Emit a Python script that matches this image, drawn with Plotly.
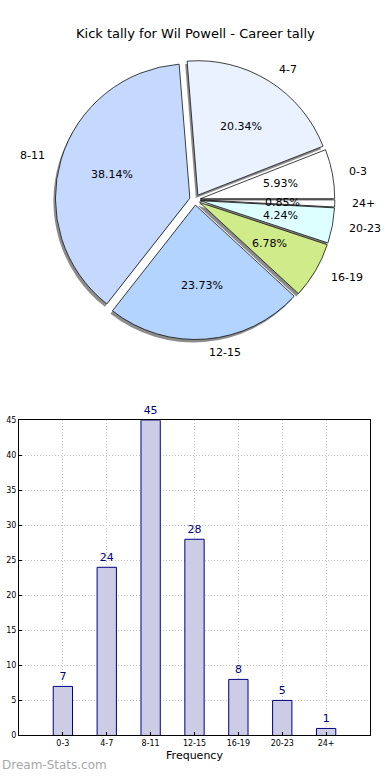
import math
import plotly.graph_objects as go

# ---- data ----
categories = ["0-3", "4-7", "8-11", "12-15", "16-19", "20-23", "24+"]
counts = [7, 24, 45, 28, 8, 5, 1]
pie_colors = ["#FFFFFF", "#EAF1FF", "#C5D9FF", "#B3D4FF", "#D0EB8A", "#DDFFFF", "#FFFFFF"]
title_text = "Kick tally for Wil Powell - Career tally"
x_title = "Frequency"
watermark = "Dream-Stats.com"

# ---- layout constants (pixels) ----
W, H = 390, 780
CX, CY, R = 195, 198, 136
PULL = 0.04
HALF = R * (1 + PULL)
FONT = "DejaVu Sans"

total = sum(counts)
# first slice starts at 3 o'clock and runs counterclockwise
pie_rotation = 90 - counts[0] / total * 360


def px2paper_x(x):
    return x / W


def px2paper_y(y):
    return 1 - y / H


def pie_domain(dx=0, dy=0):
    return dict(
        x=[px2paper_x(CX - HALF + dx), px2paper_x(CX + HALF + dx)],
        y=[px2paper_y(CY + HALF + dy), px2paper_y(CY - HALF + dy)],
    )


fig = go.Figure()

# shadow pie
fig.add_trace(go.Pie(
    labels=categories, values=counts, sort=False, direction="counterclockwise",
    rotation=pie_rotation, pull=PULL, textinfo="none", hoverinfo="skip", showlegend=False,
    marker=dict(colors=["#8c8c8c"] * len(counts), line=dict(width=0)),
    domain=pie_domain(-2, 3),
))
# main pie
fig.add_trace(go.Pie(
    labels=categories, values=counts, sort=False, direction="counterclockwise",
    rotation=pie_rotation, pull=PULL, textinfo="none", hoverinfo="label+percent", showlegend=False,
    marker=dict(colors=pie_colors, line=dict(color="#111111", width=0.8)),
    domain=pie_domain(),
))

annotations = []
start = 0.0
for cat, v in zip(categories, counts):
    frac = v / total
    mid = math.radians(start + frac * 180)
    start += frac * 360
    c, s = math.cos(mid), math.sin(mid)
    dp = (0.6 + PULL) * R
    annotations.append(dict(
        x=px2paper_x(CX + dp * c), y=px2paper_y(CY - dp * s), xref="paper", yref="paper",
        text=f"{frac*100:.2f}%", showarrow=False, xanchor="center", yanchor="middle",
        font=dict(family=FONT, size=11, color="#000000"),
    ))
    dl = (1.1 + PULL) * R
    annotations.append(dict(
        x=px2paper_x(CX + dl * c), y=px2paper_y(CY - dl * s), xref="paper", yref="paper",
        text=cat, showarrow=False, xanchor="left" if c > 0 else "right", yanchor="middle",
        font=dict(family=FONT, size=11, color="#000000"),
    ))

annotations.append(dict(
    x=0.5, y=px2paper_y(30), xref="paper", yref="paper", text=title_text, showarrow=False,
    xanchor="center", yanchor="middle", font=dict(family=FONT, size=13, color="#000000"),
))
annotations.append(dict(
    x=0, y=px2paper_y(770), xref="paper", yref="paper", text=watermark, showarrow=False,
    xanchor="left", yanchor="middle", font=dict(family=FONT, size=12, color="#a8a8a8"),
))

# bar chart
fig.add_trace(go.Bar(
    x=list(range(len(categories))), y=counts, width=0.44,
    marker=dict(color="#CCCCE5", line=dict(color="#000080", width=1)),
    text=[str(v) for v in counts], textposition="outside",
    textfont=dict(family=FONT, size=11, color="#000080"),
    cliponaxis=False, showlegend=False, xaxis="x", yaxis="y",
))

grid_style = dict(showgrid=True, gridcolor="#c4c4c4", gridwidth=1, griddash="1px,2px")

fig.update_layout(
    width=W, height=H, margin=dict(l=0, r=0, t=0, b=0),
    paper_bgcolor="white", plot_bgcolor="white",
    annotations=annotations,
    font=dict(family=FONT),
    xaxis=dict(
        domain=[px2paper_x(19), px2paper_x(370)], range=[-1, 7],
        tickmode="array", tickvals=list(range(len(categories))), ticktext=categories,
        tickfont=dict(size=8, color="#000000"),
        showline=True, linecolor="#000000", linewidth=1, mirror=True,
        ticks="inside", ticklen=3, tickcolor="#000000", zeroline=False,
        title=dict(text=x_title, font=dict(size=11, color="#000000"), standoff=4),
        **grid_style,
    ),
    yaxis=dict(
        domain=[px2paper_y(740), px2paper_y(421)], range=[0, 45], dtick=5,
        tickfont=dict(size=8, color="#000000"),
        showline=True, linecolor="#000000", linewidth=1, mirror=True,
        ticks="inside", ticklen=3, tickcolor="#000000", zeroline=False,
        **grid_style,
    ),
)

fig.write_html(
    "out.html",
    config={"responsive": False, "displayModeBar": False},
    post_script="document.body.style.margin='0';document.body.style.overflow='hidden';",
)
